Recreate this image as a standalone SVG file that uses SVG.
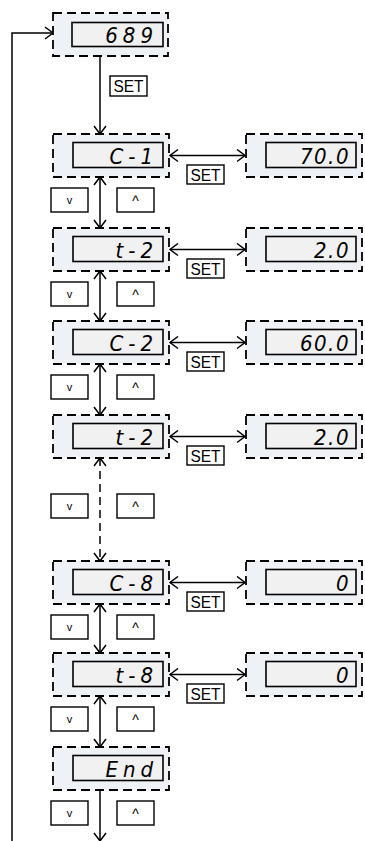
<svg xmlns="http://www.w3.org/2000/svg" width="365" height="841" viewBox="0 0 365 841">
<style>
.frame{fill:#eef1f6;stroke:#000;stroke-width:1.8;stroke-dasharray:9 5}
.disp{fill:#f1f1f1;stroke:#000;stroke-width:1.6}
.seg{font-family:"DejaVu Sans Condensed","DejaVu Sans",sans-serif;font-style:oblique;font-size:22px;fill:#000;text-anchor:end;letter-spacing:5px}
.val{letter-spacing:1.5px}
.key{fill:#fff;stroke:#000;stroke-width:1.4}
.keyt{font-family:"Liberation Sans",Arial,sans-serif;font-size:11px;fill:#000;text-anchor:middle}
.up{font-size:14px}
.sett{font-family:"Liberation Sans",Arial,sans-serif;font-size:16px;fill:#000;text-anchor:middle}
.ln{stroke:#000;stroke-width:1.5;fill:none}
.dash{stroke-dasharray:8 5}
</style>
<defs>
<marker id="ah" markerUnits="userSpaceOnUse" markerWidth="12" markerHeight="14" refX="10" refY="7" orient="auto-start-reverse">
<path d="M2,1 L10,7 L2,13" fill="none" stroke="#000" stroke-width="1.5"/>
</marker>
</defs>

<g id="connectors">
<path class="ln" d="M12,841 V33 H53" marker-end="url(#ah)"/>
<line class="ln" x1="100" y1="56" x2="100" y2="134" marker-end="url(#ah)"/>
<line class="ln" x1="100" y1="177" x2="100" y2="228" marker-start="url(#ah)" marker-end="url(#ah)"/>
<line class="ln" x1="100" y1="271" x2="100" y2="321" marker-start="url(#ah)" marker-end="url(#ah)"/>
<line class="ln" x1="100" y1="364" x2="100" y2="415" marker-start="url(#ah)" marker-end="url(#ah)"/>
<line class="ln dash" x1="100" y1="458" x2="100" y2="561" marker-start="url(#ah)" marker-end="url(#ah)"/>
<line class="ln" x1="100" y1="604" x2="100" y2="653" marker-start="url(#ah)" marker-end="url(#ah)"/>
<line class="ln" x1="100" y1="696" x2="100" y2="747" marker-start="url(#ah)" marker-end="url(#ah)"/>
<line class="ln" x1="100" y1="790" x2="100" y2="841" marker-end="url(#ah)"/>
<line class="ln" x1="170" y1="155.5" x2="245" y2="155.5" marker-start="url(#ah)" marker-end="url(#ah)"/>
<line class="ln" x1="170" y1="249.5" x2="245" y2="249.5" marker-start="url(#ah)" marker-end="url(#ah)"/>
<line class="ln" x1="170" y1="342.5" x2="245" y2="342.5" marker-start="url(#ah)" marker-end="url(#ah)"/>
<line class="ln" x1="170" y1="436.5" x2="245" y2="436.5" marker-start="url(#ah)" marker-end="url(#ah)"/>
<line class="ln" x1="170" y1="582.5" x2="245" y2="582.5" marker-start="url(#ah)" marker-end="url(#ah)"/>
<line class="ln" x1="170" y1="674.5" x2="245" y2="674.5" marker-start="url(#ah)" marker-end="url(#ah)"/>
</g>

<g id="labels">
<rect class="key" x="110" y="76" width="37" height="20"/><text class="sett" x="128.5" y="92" textLength="30" lengthAdjust="spacingAndGlyphs">SET</text>
<rect class="key" x="187" y="165" width="37" height="19"/><text class="sett" x="205.5" y="180.5" textLength="30" lengthAdjust="spacingAndGlyphs">SET</text>
<rect class="key" x="187" y="259" width="37" height="19"/><text class="sett" x="205.5" y="274.5" textLength="30" lengthAdjust="spacingAndGlyphs">SET</text>
<rect class="key" x="187" y="352" width="37" height="19"/><text class="sett" x="205.5" y="367.5" textLength="30" lengthAdjust="spacingAndGlyphs">SET</text>
<rect class="key" x="187" y="446" width="37" height="19"/><text class="sett" x="205.5" y="461.5" textLength="30" lengthAdjust="spacingAndGlyphs">SET</text>
<rect class="key" x="187" y="592" width="37" height="19"/><text class="sett" x="205.5" y="607.5" textLength="30" lengthAdjust="spacingAndGlyphs">SET</text>
<rect class="key" x="187" y="684" width="37" height="19"/><text class="sett" x="205.5" y="699.5" textLength="30" lengthAdjust="spacingAndGlyphs">SET</text>

<rect class="key" x="51" y="188" width="37" height="24"/><text class="keyt" x="69.5" y="204">v</text>
<rect class="key" x="117" y="188" width="37" height="24"/><text class="keyt up" x="135.5" y="206">^</text>
<rect class="key" x="51" y="282" width="37" height="24"/><text class="keyt" x="69.5" y="298">v</text>
<rect class="key" x="117" y="282" width="37" height="24"/><text class="keyt up" x="135.5" y="300">^</text>
<rect class="key" x="51" y="375" width="37" height="24"/><text class="keyt" x="69.5" y="391">v</text>
<rect class="key" x="117" y="375" width="37" height="24"/><text class="keyt up" x="135.5" y="393">^</text>
<rect class="key" x="51" y="494" width="37" height="24"/><text class="keyt" x="69.5" y="510">v</text>
<rect class="key" x="117" y="494" width="37" height="24"/><text class="keyt up" x="135.5" y="512">^</text>
<rect class="key" x="51" y="615" width="37" height="24"/><text class="keyt" x="69.5" y="631">v</text>
<rect class="key" x="117" y="615" width="37" height="24"/><text class="keyt up" x="135.5" y="633">^</text>
<rect class="key" x="51" y="707" width="37" height="24"/><text class="keyt" x="69.5" y="723">v</text>
<rect class="key" x="117" y="707" width="37" height="24"/><text class="keyt up" x="135.5" y="725">^</text>
<rect class="key" x="51" y="801" width="37" height="24"/><text class="keyt" x="69.5" y="817">v</text>
<rect class="key" x="117" y="801" width="37" height="24"/><text class="keyt up" x="135.5" y="819">^</text>
</g>

<g id="n-689"><rect class="frame" x="53" y="13" width="115" height="43"/><rect class="disp" x="72" y="22.5" width="91" height="24"/><text class="seg" x="158" y="42.5">689</text></g>
<g id="n-c1"><rect class="frame" x="53" y="134" width="116" height="43"/><rect class="disp" x="73" y="142.5" width="90" height="25"/><text class="seg" x="158" y="163.5">C-1</text></g>
<g id="n-t2a"><rect class="frame" x="53" y="228" width="116" height="43"/><rect class="disp" x="73" y="236.5" width="90" height="25"/><text class="seg" x="158" y="257.5">t-2</text></g>
<g id="n-c2"><rect class="frame" x="53" y="321" width="116" height="43"/><rect class="disp" x="73" y="329.5" width="90" height="25"/><text class="seg" x="158" y="350.5">C-2</text></g>
<g id="n-t2b"><rect class="frame" x="53" y="415" width="116" height="43"/><rect class="disp" x="73" y="423.5" width="90" height="25"/><text class="seg" x="158" y="444.5">t-2</text></g>
<g id="n-c8"><rect class="frame" x="53" y="561" width="116" height="43"/><rect class="disp" x="73" y="569.5" width="90" height="25"/><text class="seg" x="158" y="590.5">C-8</text></g>
<g id="n-t8"><rect class="frame" x="53" y="653" width="116" height="43"/><rect class="disp" x="73" y="661.5" width="90" height="25"/><text class="seg" x="158" y="682.5">t-8</text></g>
<g id="n-end"><rect class="frame" x="53" y="747" width="116" height="43"/><rect class="disp" x="73" y="755.5" width="90" height="25"/><text class="seg" x="158" y="776.5">End</text></g>

<g id="v-c1"><rect class="frame" x="246" y="134" width="116" height="43"/><rect class="disp" x="266" y="142.5" width="90" height="25"/><text class="seg val" x="350" y="163.5">70.0</text></g>
<g id="v-t2a"><rect class="frame" x="246" y="228" width="116" height="43"/><rect class="disp" x="266" y="236.5" width="90" height="25"/><text class="seg val" x="350" y="257.5">2.0</text></g>
<g id="v-c2"><rect class="frame" x="246" y="321" width="116" height="43"/><rect class="disp" x="266" y="329.5" width="90" height="25"/><text class="seg val" x="350" y="350.5">60.0</text></g>
<g id="v-t2b"><rect class="frame" x="246" y="415" width="116" height="43"/><rect class="disp" x="266" y="423.5" width="90" height="25"/><text class="seg val" x="350" y="444.5">2.0</text></g>
<g id="v-c8"><rect class="frame" x="246" y="561" width="116" height="43"/><rect class="disp" x="266" y="569.5" width="90" height="25"/><text class="seg val" x="350" y="590.5">0</text></g>
<g id="v-t8"><rect class="frame" x="246" y="653" width="116" height="43"/><rect class="disp" x="266" y="661.5" width="90" height="25"/><text class="seg val" x="350" y="682.5">0</text></g>
</svg>
